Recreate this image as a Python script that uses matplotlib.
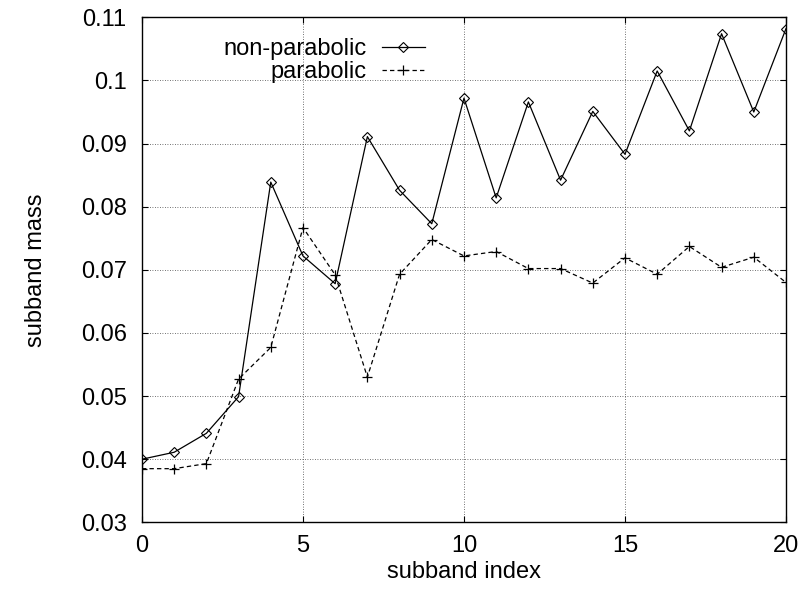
import matplotlib
matplotlib.use("Agg")
import matplotlib.pyplot as plt

plt.rcParams['font.family'] = ['Liberation Sans', 'DejaVu Sans']

# subband masses vs subband index
index = list(range(21))
non_parabolic = [0.0400, 0.0411, 0.0441, 0.0499, 0.0839, 0.0722, 0.0678, 0.0911,
                 0.0826, 0.0773, 0.0972, 0.0814, 0.0966, 0.0842, 0.0951, 0.0883,
                 0.1015, 0.0920, 0.1074, 0.0950, 0.1082]
parabolic = [0.0385, 0.0385, 0.0393, 0.0527, 0.0577, 0.0767, 0.0692, 0.0530,
             0.0693, 0.0748, 0.0722, 0.0729, 0.0702, 0.0702, 0.0679, 0.0719,
             0.0693, 0.0737, 0.0704, 0.0720, 0.0680]

fs = 17

fig = plt.figure(figsize=(8.03, 5.89), dpi=100)
ax = fig.add_axes([0.1768, 0.1132, 0.802, 0.8574])

ax.plot(index, non_parabolic, color='black', lw=0.9, marker='D', ms=5,
        mfc='none', mec='black', mew=0.8, label='non-parabolic')
ax.plot(index, parabolic, color='black', lw=0.9, ls=(0, (3.5, 2.5)), marker='+',
        ms=6.5, mew=0.9, label='parabolic')

ax.set_xlim(0, 20)
ax.set_ylim(0.03, 0.11)
ax.set_xticks([0, 5, 10, 15, 20])
ax.set_yticks([0.03, 0.04, 0.05, 0.06, 0.07, 0.08, 0.09, 0.1, 0.11])
ax.set_yticklabels(['0.03', '0.04', '0.05', '0.06', '0.07', '0.08', '0.09', '0.1', '0.11'])
ax.tick_params(direction='in', length=4, width=0.8, top=True, right=True,
               labelsize=fs)
ax.tick_params(axis='y', pad=11)
ax.tick_params(axis='x', pad=9)
ax.grid(True, color='#444444', ls=(0, (1, 2)), lw=0.6)
for s in ax.spines.values():
    s.set_linewidth(1.0)

ax.set_xlabel('subband index', fontsize=fs, labelpad=3)
ax.set_ylabel('subband mass', fontsize=fs, labelpad=24)

ax.legend(loc='upper right', bbox_to_anchor=(0.4394, 0.959), frameon=False,
          markerfirst=False, numpoints=1, handlelength=1.83, fontsize=fs,
          labelspacing=0.05, handletextpad=0.64, borderaxespad=0, borderpad=0)

fig.savefig('out.png', dpi=100)
